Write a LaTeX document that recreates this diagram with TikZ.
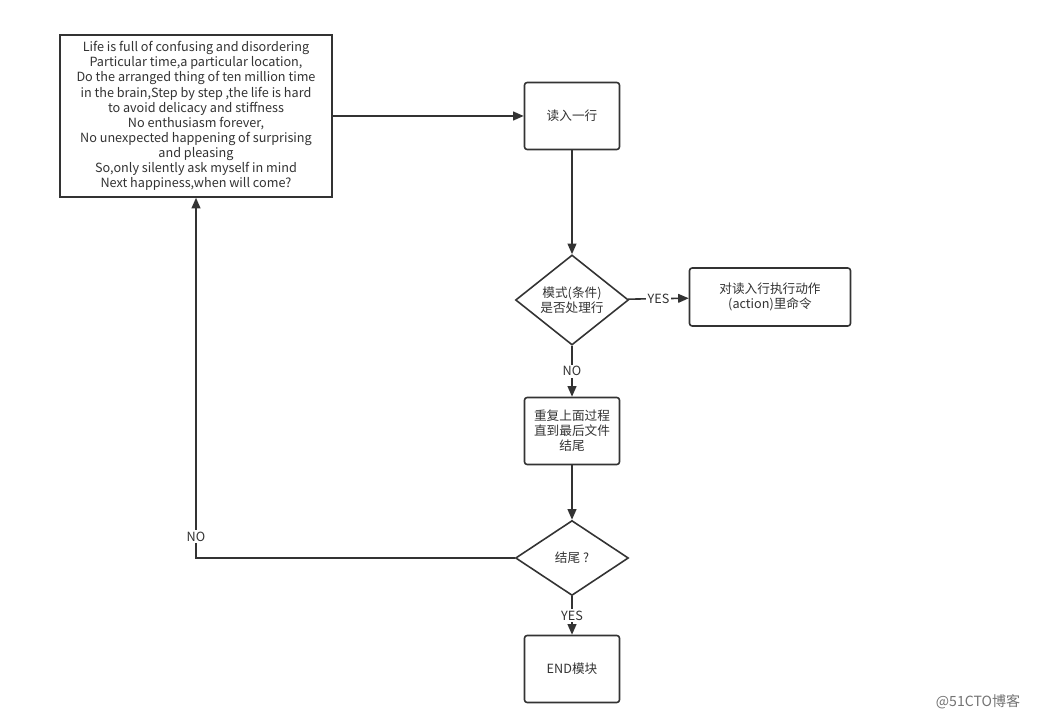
\documentclass[tikz,border=0pt]{standalone}
\usepackage{fontspec}
\setmainfont{Noto Sans CJK SC}
\usetikzlibrary{arrows.meta,shapes.geometric}

\begin{document}
\begin{tikzpicture}[x=0.02cm,y=-0.02cm,>={Triangle[length=6pt,width=5pt]},
  every node/.style={font=\fontsize{7.2}{8.6}\selectfont,text=black!80},
  box/.style={draw=black!80,line width=0.9pt,rounded corners=1.5pt,align=center,inner sep=2pt},
  decide/.style={draw=black!80,line width=0.9pt,diamond,inner sep=0pt,align=center,minimum width=2.26cm,minimum height=1.5cm},
  line/.style={draw=black!80,line width=0.9pt,->},
  tag/.style={fill=white,inner sep=1pt}]
  \useasboundingbox[fill=white] (0,0) rectangle (1037,719);
  \node[box,rounded corners=0pt,minimum width=5.44cm,minimum height=3.24cm] (life) at (196,116)
    {Life is full of confusing and disordering\\ Particular time,a particular location,\\
     Do the arranged thing of ten million time\\ in the brain,Step by step ,the life is hard\\
     to avoid delicacy and stiffness\\ No enthusiasm forever,\\
     No unexpected happening of surprising\\ and pleasing\\
     So,only silently ask myself in mind\\ Next happiness,when will come?};
  \node[box,minimum width=1.9cm,minimum height=1.34cm] (read) at (572,116) {读入一行};
  \node[decide] (cond) at (572,300) {模式(条件)\\是否处理行};
  \node[box,minimum width=3.22cm,minimum height=1.16cm] (act) at (770,297) {对读入行执行动作\\(action)里命令};
  \node[box,minimum width=1.9cm,minimum height=1.34cm] (rep) at (572,431) {重复上面过程\\直到最后文件\\结尾};
  \node[decide] (tail) at (572,558) {结尾 ?};
  \node[box,minimum width=1.9cm,minimum height=1.34cm] (fin) at (572,669) {END模块};
  \node[text=black!55,font=\fontsize{8}{9}\selectfont] (mark) at (978,702) {@51CTO博客};

  \draw[line] (life) -- (read);
  \draw[line] (read) -- (cond);
  \draw[line] (cond) -- node[tag] {YES} (act);
  \draw[line] (cond) -- node[tag] {NO} (rep);
  \draw[line] (rep) -- (tail);
  \draw[line] (tail) -- node[tag] {YES} (fin);
  \draw[line] (tail.west) -| node[tag,pos=0.53] {NO} (life.south);
\end{tikzpicture}
\end{document}
